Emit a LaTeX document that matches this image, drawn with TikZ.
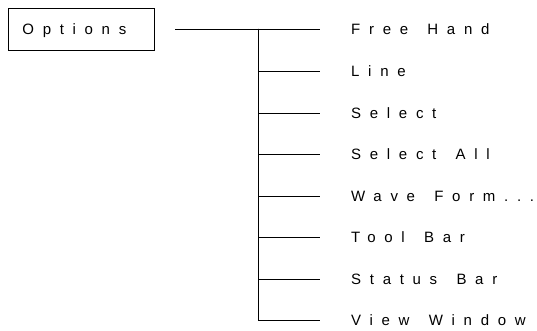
\documentclass[tikz,border=0pt]{standalone}
\usepackage{fontspec}
\newfontfamily\menufont[LetterSpace=58,WordSpace=1.5]{Liberation Sans}
\newcommand\wavetxt{Wave Form...}
\begin{document}
\begin{tikzpicture}[x=1pt,y=-1pt,
  menufontsize/.style={font=\menufont\fontsize{15}{17}\selectfont},
  menuitem/.style={menufontsize,inner sep=0pt,anchor=base west},
  rootbox/.style={menufontsize,draw,line width=0.8pt,anchor=west,
    text width=118pt,align=left,inner xsep=14pt,inner ysep=0pt,
    text height=10.7pt,text depth=0pt,minimum height=42pt},
  wire/.style={line width=0.8pt}]
\useasboundingbox (0,0) rectangle (537,331);
% root menu
\node[rootbox] (opt) at (8,29.5) {Options};
% entries of the menu
\foreach \name/\txt/\yy in {fh/Free Hand/29, ln/Line/71, sel/Select/113, sall/Select All/154,
    wave/\wavetxt/196, tool/Tool Bar/237, stat/Status Bar/279, view/View Window/320}{
  \node[menuitem] (\name) at (351,\yy+5.8) {\txt};
  \coordinate (\name-end) at (320,\yy);
}
% trunk and branches
\coordinate (start) at (175,29);
\coordinate (trunk) at (258,29);
\draw[wire] (start) -- (fh-end);
\foreach \name in {ln,sel,sall,wave,tool,stat,view}{
  \draw[wire] (trunk) |- (\name-end);
}
\end{tikzpicture}
\end{document}
